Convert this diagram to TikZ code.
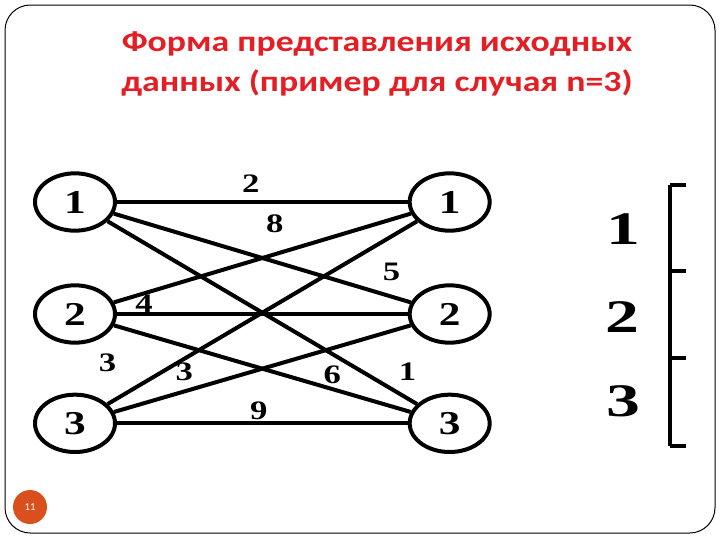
\documentclass[tikz,border=0pt]{standalone}
\usepackage{fontspec}
\setmainfont{Liberation Serif}
\newfontfamily\titlefont[FakeStretch=1.22]{Carlito}
\newfontfamily\badgefont{Carlito}
\newfontfamily\numfont[FakeStretch=1.3]{Liberation Serif}
\newfontfamily\rankfont[FakeStretch=1.45]{Liberation Serif}
\usetikzlibrary{positioning,shapes.geometric}
\definecolor{titlered}{HTML}{E31E24}
\definecolor{badge}{HTML}{D9501E}

\begin{document}
\begin{tikzpicture}[
  x=0.75pt, y=-0.75pt,
  vertex/.style={draw, ellipse, line width=3pt, minimum width=60pt, minimum height=43pt, inner sep=0pt, font=\numfont\fontsize{25}{25}\selectfont\bfseries},
  link/.style={line width=3pt},
  cost/.style={inner sep=1pt, font=\numfont\fontsize{20}{20}\selectfont\bfseries},
  heading/.style={text=titlered, font=\titlefont\fontsize{22}{30}\selectfont\bfseries},
  rank/.style={font=\rankfont\fontsize{35}{35}\selectfont\bfseries},
  bracket/.style={line width=3pt},
  pagenum/.style={circle, fill=badge, text=white, minimum size=25.5pt, inner sep=0pt, font=\badgefont\fontsize{8}{9}\selectfont}
]
\useasboundingbox (0,0) rectangle (720,540);
\draw[line width=0.75pt, rounded corners=19pt] (5,5) rectangle (715,533);

\node[heading, anchor=base] (head1) at (377,51) {Форма представления исходных};
\node[heading, anchor=base] (head2) at (377,91) {данных (пример для случая n=3)};

\node[vertex] (L1) at (75,202) {1};
\node[vertex, below=38pt of L1] (L2) {2};
\node[vertex, below=36pt of L2] (L3) {3};
\node[vertex, right=218pt of L1] (R1) {1};
\node[vertex, right=218pt of L2] (R2) {2};
\node[vertex, right=218pt of L3] (R3) {3};

\draw[link] (L1) -- node[cost, pos=.46, above=5pt] (w11) {2} (R1);
\draw[link] (L1) -- node[cost, pos=.935, above=9.5pt] (w12) {5} (R2);
\draw[link] (L1) -- node[cost, pos=.969, above=11pt] (w13) {1} (R3);
\draw[link] (L2) -- node[cost, pos=.542, above=14pt] (w21) {8} (R1);
\draw[link] (L2) -- node[cost, pos=.093, above=-1pt] (w22) {4} (R2);
\draw[link] (L2) -- node[cost, pos=.736, above=1.25pt] (w23) {6} (R3);
\draw[link] (L3) -- node[cost, pos=0, above=21.5pt] (w31) {3} (R1);
\draw[link] (L3) -- node[cost, pos=.237, above=5.75pt] (w32) {3} (R2);
\draw[link] (L3) -- node[cost, pos=.488, above=.5pt] (w33) {9} (R3);

% bracket with the levels
\draw[bracket] (670,185) -- (670,446);
\foreach \y in {185,271,358,446}
  \draw[bracket] (670,\y) -- (686,\y);
\node[rank] (s1) at (623,229) {1};
\node[rank] (s2) at (622,317) {2};
\node[rank] (s3) at (623,401) {3};

\node[pagenum] (page) at (30,507) {11};
\end{tikzpicture}
\end{document}
